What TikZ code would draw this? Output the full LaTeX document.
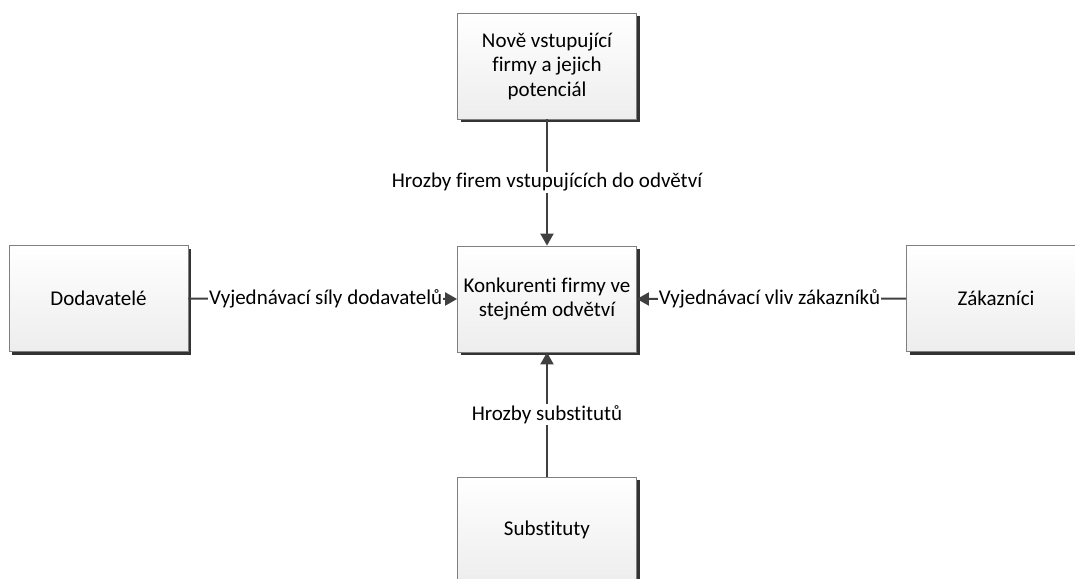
\documentclass[tikz,border=0pt]{standalone}
\usepackage{fontspec}
\setmainfont{Carlito}[Ligatures=NoCommon]
\usetikzlibrary{arrows.meta,shadows}
\definecolor{edge}{HTML}{7F7F7F}
\definecolor{wire}{HTML}{404040}
\begin{document}
\begin{tikzpicture}[x=1pt,y=-1pt,
  forcebox/.style={draw=edge, line width=0.8pt, top color=white, bottom color=black!7,
    minimum width=179pt, minimum height=106pt, inner sep=0pt, align=center,
    font=\fontsize{21}{24.5}\selectfont,
    drop shadow={shadow xshift=3pt, shadow yshift=-3pt, fill=black!80, opacity=1}},
  force/.style={draw=wire, line width=2pt, -{Triangle[length=12pt,width=13pt]}},
  forcelabel/.style={fill=white, inner sep=1pt, font=\fontsize{21}{24}\selectfont}]
  \useasboundingbox (0,0) rectangle (1075,578);
  \clip (0,0) rectangle (1075,578);
  \node[forcebox] (new) at (547,66) {Nově vstupující\\firmy a jejich\\potenciál};
  \node[forcebox] (rival) at (547,299) {Konkurenti firmy ve\\stejném odvětví};
  \node[forcebox] (supp) at (98.5,298.5) {Dodavatelé};
  \node[forcebox] (cust) at (996,298.5) {Zákazníci};
  \node[forcebox] (subst) at (547,530) {Substituty};
  \draw[force] (new.south) -- node[forcelabel] {Hrozby firem vstupujících do odvětví} (rival.north);
  \draw[force] (subst.north) -- node[forcelabel] {Hrozby substitutů} (rival.south);
  \draw[force] (supp.east) -- node[forcelabel, xshift=3pt] {Vyjednávací síly dodavatelů} (rival.west);
  \draw[force] (cust.west) -- node[forcelabel, xshift=-2pt] {Vyjednávací vliv zákazníků} (rival.east);
\end{tikzpicture}
\end{document}
